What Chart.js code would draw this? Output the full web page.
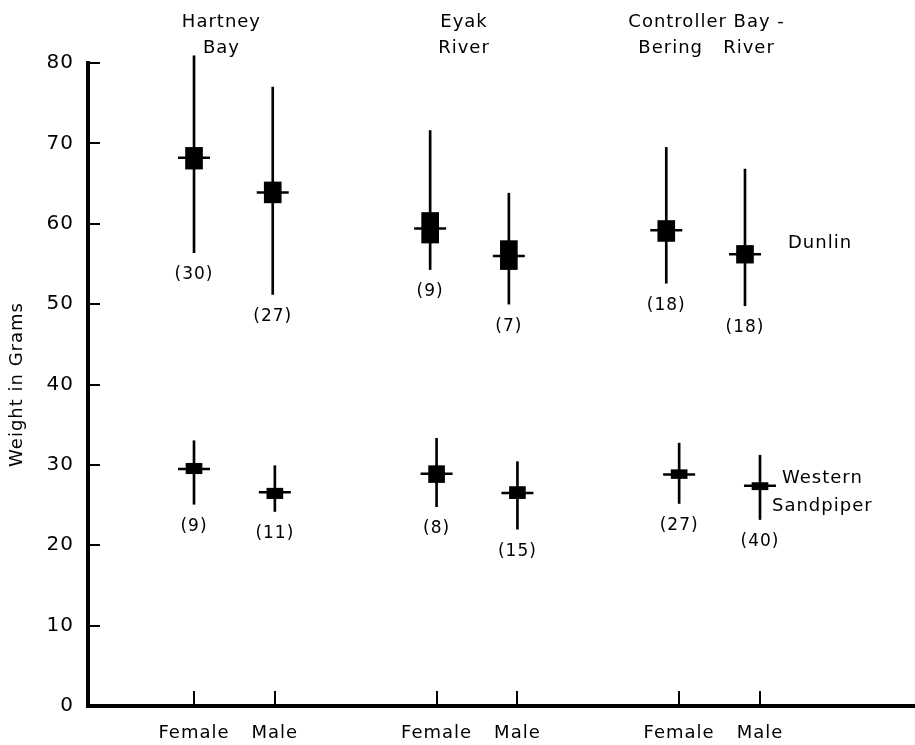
<!DOCTYPE html>
<html><head><meta charset="utf-8">
<script src="https://cdn.jsdelivr.net/npm/chart.js@4.4.1/dist/chart.umd.min.js"></script>
<style>html,body{margin:0;padding:0;background:#fff}canvas{display:block}</style>
</head><body>
<canvas id="c" width="915" height="745"></canvas>
<script>
// ---- data ----
const sites = [['Hartney', 'Bay'], ['Eyak', 'River'], ['Controller Bay -', 'Bering   River']];
const sexes = ['Female', 'Male'];
const yTicks = [0, 10, 20, 30, 40, 50, 60, 70, 80];
const seriesNames = ['Dunlin', 'Western Sandpiper'];

// order: Hartney F, Hartney M, Eyak F, Eyak M, Controller F, Controller M
const dunlinMean    = [68.2, 63.9, 59.4, 56.0, 59.2, 56.2];
const dunlinMax     = [80.9, 77.0, 71.6, 63.8, 69.5, 66.8];
const dunlinMin     = [56.4, 51.2, 54.3, 50.0, 52.6, 49.8];
const dunlinBoxHigh = [69.5, 65.2, 61.4, 57.9, 60.4, 57.3];
const dunlinBoxLow  = [66.8, 62.6, 57.6, 54.3, 57.8, 55.1];
const dunlinN       = [30, 27, 9, 7, 18, 18];

const sandMean    = [29.5, 26.6, 28.9, 26.5, 28.8, 27.4];
const sandMax     = [33.0, 29.9, 33.3, 30.4, 32.7, 31.2];
const sandMin     = [25.1, 24.2, 24.8, 22.0, 25.2, 23.2];
const sandBoxHigh = [30.2, 27.1, 29.9, 27.3, 29.4, 27.8];
const sandBoxLow  = [28.9, 25.8, 27.8, 25.8, 28.3, 26.9];
const sandN       = [9, 11, 8, 15, 27, 40];

// ---- layout helpers ----
const slots = [];
const slotLabels = [];
sites.forEach((s, i) => sexes.forEach((sx, j) => { slots.push(i * 3 + j); slotLabels.push(sx); }));

const FONT = 'DejaVu Sans';
const SPACING = '1px';
Chart.defaults.font.family = FONT;
Chart.defaults.color = '#000';

function rangeData(lo, hi) { return slots.map((x, k) => ({ x: x, y: [lo[k], hi[k]] })); }
function pointData(v) { return slots.map((x, k) => ({ x: x, y: v[k] })); }

const barBase = { type: 'bar', backgroundColor: '#000', borderWidth: 0, grouped: false, clip: false };
const meanBase = { type: 'scatter', pointStyle: 'line', pointRadius: 16, pointHoverRadius: 16,
  borderColor: '#000', backgroundColor: '#000', pointBorderWidth: 2.5, borderWidth: 2.5, clip: false, showLine: false };

function setSpacing(chart) { chart.ctx.letterSpacing = SPACING; }

const annot = {
  id: 'annot',
  beforeUpdate: setSpacing, beforeLayout: setSpacing, beforeDraw: setSpacing,
  afterDatasetsDraw(chart) {
    const ctx = chart.ctx, xs = chart.scales.x, xd = chart.scales.xd, ys = chart.scales.y, a = chart.chartArea;
    ctx.save();
    ctx.letterSpacing = SPACING;
    ctx.fillStyle = '#000'; ctx.strokeStyle = '#000';
    // inward tick marks
    ctx.lineWidth = 2;
    yTicks.forEach(v => { const y = Math.round(ys.getPixelForValue(v)); ctx.beginPath(); ctx.moveTo(a.left, y); ctx.lineTo(a.left + 12, y); ctx.stroke(); });
    slots.forEach(s => { const x = Math.round(xs.getPixelForValue(s)); ctx.beginPath(); ctx.moveTo(x, a.bottom); ctx.lineTo(x, a.bottom - 15); ctx.stroke(); });
    // group labels
    ctx.font = '18px "' + FONT + '"';
    ctx.textAlign = 'center'; ctx.textBaseline = 'middle';
    sites.forEach((lines, i) => {
      const cx = xs.getPixelForValue(i * 3 + 0.5) - 13;
      lines.forEach((t, li) => ctx.fillText(t, cx, 22 + li * 26));
    });
    // sample sizes
    ctx.font = '17px "' + FONT + '"';
    slots.forEach((s, k) => {
      ctx.fillText('(' + dunlinN[k] + ')', xd.getPixelForValue(s), ys.getPixelForValue(dunlinMin[k]) + 22);
      ctx.fillText('(' + sandN[k] + ')', xs.getPixelForValue(s), ys.getPixelForValue(sandMin[k]) + 22);
    });
    // series labels
    ctx.font = '18px "' + FONT + '"';
    ctx.textAlign = 'left';
    const lastX = xs.getPixelForValue(slots[slots.length - 1]);
    ctx.fillText(seriesNames[0], lastX + 28, ys.getPixelForValue(dunlinMean[5]) - 11);
    const sw = seriesNames[1].split(' ');
    const sy = ys.getPixelForValue(sandMean[5]);
    ctx.fillText(sw[0], lastX + 22, sy - 7);
    ctx.fillText(sw[1], lastX + 12, sy + 21);
    ctx.restore();
  }
};

new Chart(document.getElementById('c'), {
  type: 'bar',
  data: {
    datasets: [
      Object.assign({ label: 'Dunlin range', data: rangeData(dunlinMin, dunlinMax), barThickness: 2, xAxisID: 'xd' }, barBase),
      Object.assign({ label: 'Dunlin box', data: rangeData(dunlinBoxLow, dunlinBoxHigh), barThickness: 17, xAxisID: 'xd' }, barBase),
      Object.assign({ label: 'Dunlin mean', data: pointData(dunlinMean), xAxisID: 'xd' }, meanBase),
      Object.assign({ label: 'Sandpiper range', data: rangeData(sandMin, sandMax), barThickness: 2, xAxisID: 'x' }, barBase),
      Object.assign({ label: 'Sandpiper box', data: rangeData(sandBoxLow, sandBoxHigh), barThickness: 16, xAxisID: 'x' }, barBase),
      Object.assign({ label: 'Sandpiper mean', data: pointData(sandMean), xAxisID: 'x' }, meanBase)
    ]
  },
  options: {
    responsive: false,
    animation: false,
    devicePixelRatio: 1,
    layout: { autoPadding: false, padding: { top: 63, left: 0, right: 0, bottom: 0 } },
    plugins: { legend: { display: false }, tooltip: { enabled: false } },
    scales: {
      x: {
        type: 'linear', min: -1.311, max: 8.917, offset: false,
        afterBuildTicks: ax => { ax.ticks = slots.map(v => ({ value: v })); },
        afterFit: ax => { ax.height = 39; },
        ticks: { autoSkip: false, maxRotation: 0, padding: 17, font: { size: 18 },
          callback: v => { const k = slots.indexOf(v); return k >= 0 ? slotLabels[k] : ''; } },
        grid: { display: true, drawOnChartArea: false, drawTicks: false, offset: false },
        border: { display: true, width: 4, color: '#000' }
      },
      xd: {
        // upper half of the original figure is slightly compressed horizontally
        type: 'linear', position: 'bottom', display: false, min: -1.347, max: 9.16, offset: false
      },
      y: {
        min: 0, max: 80,
        afterBuildTicks: ax => { ax.ticks = yTicks.map(v => ({ value: v })); },
        afterFit: ax => { ax.width = 88; },
        ticks: { padding: 14, font: { size: 20 } },
        grid: { display: true, drawOnChartArea: false, drawTicks: false },
        border: { display: true, width: 4, color: '#000' },
        title: { display: true, text: 'Weight in Grams', font: { size: 18 }, padding: { top: 7, bottom: 4 } }
      }
    }
  },
  plugins: [annot]
});
</script>
</body></html>
